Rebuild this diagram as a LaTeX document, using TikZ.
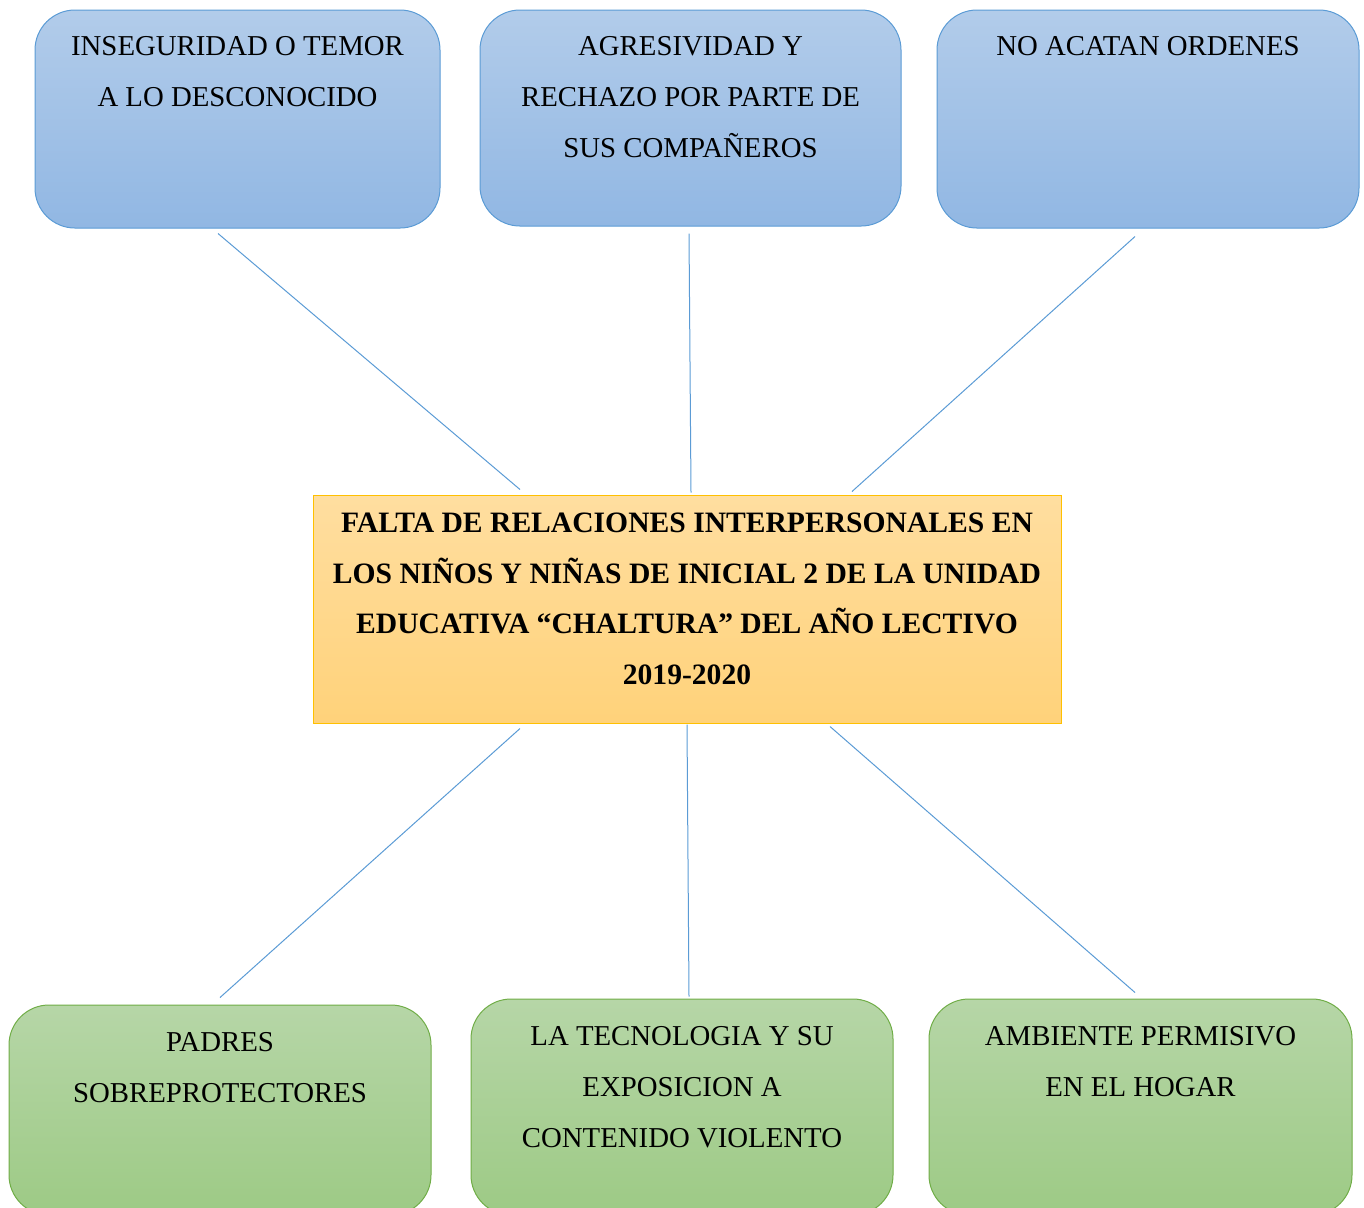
\documentclass[tikz,border=0pt]{standalone}
\usepackage{fontspec}
\setmainfont{Liberation Serif}
\usetikzlibrary{calc}
\definecolor{azulborde}{RGB}{91,155,213}
\definecolor{azularriba}{RGB}{178,204,234}
\definecolor{azulabajo}{RGB}{145,183,227}
\definecolor{verdeborde}{RGB}{112,173,71}
\definecolor{verdearriba}{RGB}{182,214,167}
\definecolor{verdeabajo}{RGB}{157,202,133}
\definecolor{naranjaborde}{RGB}{255,192,0}
\definecolor{naranjaarriba}{RGB}{255,222,160}
\definecolor{naranjaabajo}{RGB}{255,210,122}

\tikzset{
  caja/.style={draw, rounded corners=20pt, line width=0.5pt, inner sep=0pt},
  efecto/.style={caja, draw=azulborde, top color=azularriba, bottom color=azulabajo},
  causa/.style={caja, draw=verdeborde, top color=verdearriba, bottom color=verdeabajo},
  problema/.style={draw=naranjaborde, line width=0.5pt, top color=naranjaarriba, bottom color=naranjaabajo, inner sep=0pt},
  texto/.style={anchor=base, align=center, inner sep=0pt, font=\fontsize{14.4}{25.5}\selectfont},
  rama/.style={draw=azulborde, line width=0.5pt}
}

\begin{document}
\begin{tikzpicture}[x=0.5pt,y=-0.5pt]
\useasboundingbox (0,0) rectangle (1364,1207);

% efectos (texto anclado en la base de su ultima linea)
\node[efecto, minimum width=202.5pt, minimum height=109pt] (ins) at (237.5,119) {};
\node[efecto, minimum width=210.5pt, minimum height=108pt] (agr) at (690.5,118) {};
\node[efecto, minimum width=211pt, minimum height=109pt] (noa) at (1148,119) {};
\node[texto] (insT) at ($(ins.north)+(0,97)$) {INSEGURIDAD O TEMOR\\A LO DESCONOCIDO};
\node[texto] (agrT) at ($(agr.north)+(0,148)$) {AGRESIVIDAD Y\\RECHAZO POR PARTE DE\\SUS COMPAÑEROS};
\node[texto] (noaT) at ($(noa.north)+(0,46)$) {NO ACATAN ORDENES};

% problema central
\node[problema, minimum width=374pt, minimum height=114pt] (falta) at (687,609) {};
\node[texto, font=\fontsize{14.8}{25.3}\selectfont\bfseries] (faltaT) at ($(falta.north)+(0,190)$)
  {FALTA DE RELACIONES INTERPERSONALES EN\\LOS NIÑOS Y NIÑAS DE INICIAL 2 DE LA UNIDAD\\EDUCATIVA “CHALTURA” DEL AÑO LECTIVO\\2019-2020};

% causas
\node[causa, minimum width=211pt, minimum height=105pt] (pad) at (220,1110) {};
\node[causa, minimum width=211pt, minimum height=108pt] (tec) at (682,1107) {};
\node[causa, minimum width=211.5pt, minimum height=108pt] (amb) at (1140.5,1107) {};
\node[texto] (padT) at ($(pad.north)+(0,98)$) {PADRES\\SOBREPROTECTORES};
\node[texto] (tecT) at ($(tec.north)+(0,149)$) {LA TECNOLOGIA Y SU\\EXPOSICION A\\CONTENIDO VIOLENTO};
\node[texto] (ambT) at ($(amb.north)+(0,98)$) {AMBIENTE PERMISIVO\\EN EL HOGAR};

% ramas
\draw[rama] ($(ins.south)+(-19.5,5)$) -- ($(falta.north)+(-167,-5)$);
\draw[rama] ($(agr.south)+(-1.5,7)$) -- ($(falta.north)+(4,-2)$);
\draw[rama] ($(noa.south)+(-13,8)$) -- ($(falta.north)+(165,-3)$);
\draw[rama] ($(falta.south)+(-167,5)$) -- ($(pad.north)+(0,-7)$);
\draw[rama] ($(falta.south)+(0,1)$) -- ($(tec.north)+(7,-2)$);
\draw[rama] ($(falta.south)+(143,3)$) -- ($(amb.north)+(-5.5,-6)$);
\end{tikzpicture}
\end{document}
